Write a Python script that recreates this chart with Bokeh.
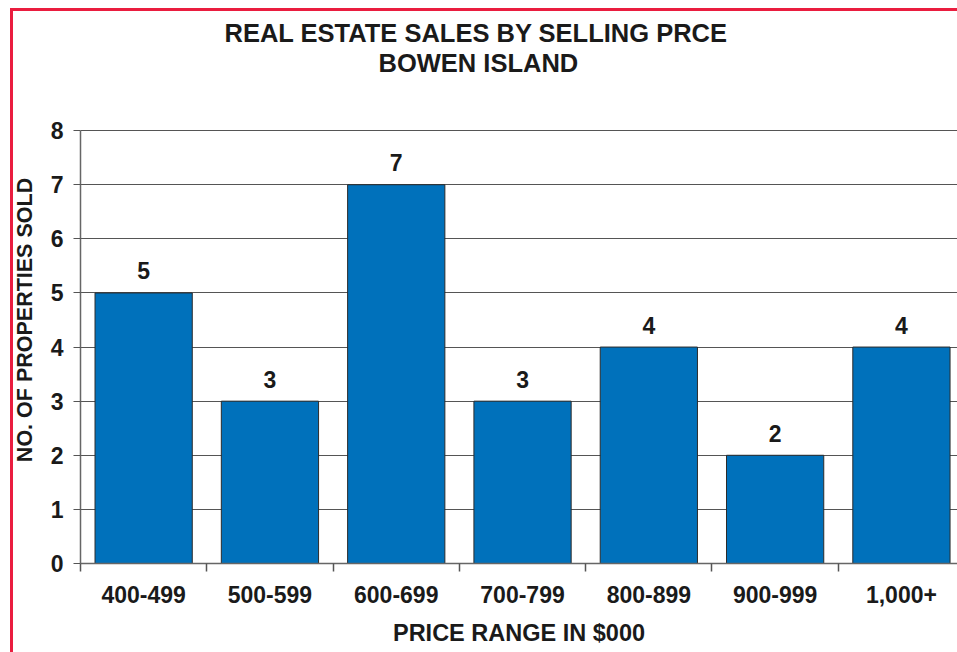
from bokeh.plotting import figure
from bokeh.models import Range1d, FixedTicker, Title, ColumnDataSource
from bokeh.embed import file_html
from bokeh.resources import INLINE
from bokeh.core.properties import value

categories = ["400-499", "500-599", "600-699", "700-799", "800-899", "900-999", "1,000+"]
counts = [5, 3, 7, 3, 4, 2, 4]
y_ticks = [0, 1, 2, 3, 4, 5, 6, 7, 8]
title_lines = ["REAL ESTATE SALES BY SELLING PRCE", "BOWEN ISLAND"]

FONT = "Liberation Sans"
TXT = "#1a1a1a"
RED = "#EA1D3F"

xs = list(range(len(categories)))
src = ColumnDataSource(dict(x=xs, top=counts, label=[str(c) for c in counts]))

p = figure(width=957, height=652, output_backend="svg", toolbar_location=None,
           x_range=Range1d(-0.5, 6.444), y_range=Range1d(0, 9),
           min_border_left=80, min_border_top=76, min_border_bottom=89, min_border_right=0)
p.styles = {
    "background-image": f"linear-gradient({RED},{RED}), linear-gradient({RED},{RED})",
    "background-size": "3px 100%, 100% 3px",
    "background-position": "10px 8px, 10px 8px",
    "background-repeat": "no-repeat",
    "background-color": "white",
}
p.outline_line_color = None
p.background_fill_color = "white"
p.border_fill_color = None

xa = p.below[0]
ya = p.left[0]

p.vbar(x="x", top="top", width=0.77, source=src, fill_color="#0071BB",
       line_color="#2b2b2b", line_width=1)
p.text(x="x", y="top", text="label", source=src, text_align="center",
       text_baseline="alphabetic", y_offset=-22, text_font=value(FONT),
       text_font_style="bold", text_font_size="23px", text_color=TXT)

# titles: nearest to the plot first
t2 = Title(text=title_lines[1], align="left", offset=298, standoff=0,
           text_font=FONT, text_font_size="25.5px", text_font_style="bold", text_color=TXT)
t1 = Title(text=title_lines[0], align="left", offset=144, standoff=0,
           text_font=FONT, text_font_size="25.5px", text_font_style="bold", text_color=TXT)
p.add_layout(t2, "above")
p.add_layout(t1, "above")

# x axis
xa.ticker = FixedTicker(ticks=xs, minor_ticks=[i - 0.5 for i in range(len(categories) + 1)])
xa.major_label_overrides = {i: c for i, c in enumerate(categories)}
xa.major_tick_line_color = None
xa.major_tick_out = 7
xa.minor_tick_out = 8
xa.minor_tick_in = 0
xa.minor_tick_line_color = "#555555"
xa.minor_tick_line_width = 1.5
xa.axis_line_color = "#666666"
xa.axis_line_width = 1.5
xa.major_label_standoff = 14
xa.major_label_text_font = FONT
xa.major_label_text_font_size = "23px"
xa.major_label_text_font_style = "bold"
xa.major_label_text_color = TXT
xa.axis_label = "PRICE RANGE IN $000"
xa.axis_label_text_font = FONT
xa.axis_label_text_font_size = "23.5px"
xa.axis_label_text_font_style = "bold"
xa.axis_label_text_color = TXT
xa.axis_label_standoff = 14

# y axis (line limited to 0..8)
ya.bounds = (0, 8)
ya.ticker = FixedTicker(ticks=y_ticks)
ya.major_tick_out = 7
ya.major_tick_in = 0
ya.major_tick_line_color = "#555555"
ya.major_tick_line_width = 1.2
ya.minor_tick_line_color = None
ya.axis_line_color = "#666666"
ya.axis_line_width = 1.5
ya.major_label_standoff = 10
ya.major_label_text_font = FONT
ya.major_label_text_font_size = "23px"
ya.major_label_text_font_style = "bold"
ya.major_label_text_color = TXT
ya.axis_label = "NO. OF PROPERTIES SOLD"
ya.axis_label_text_font = FONT
ya.axis_label_text_font_size = "21.5px"
ya.axis_label_text_font_style = "bold"
ya.axis_label_text_color = TXT
ya.axis_label_standoff = 11

p.xgrid.grid_line_color = None
p.ygrid.ticker = FixedTicker(ticks=y_ticks)
p.ygrid.grid_line_color = "#555555"
p.ygrid.grid_line_width = 1.2

open("out.html", "w").write(file_html(p, INLINE))
